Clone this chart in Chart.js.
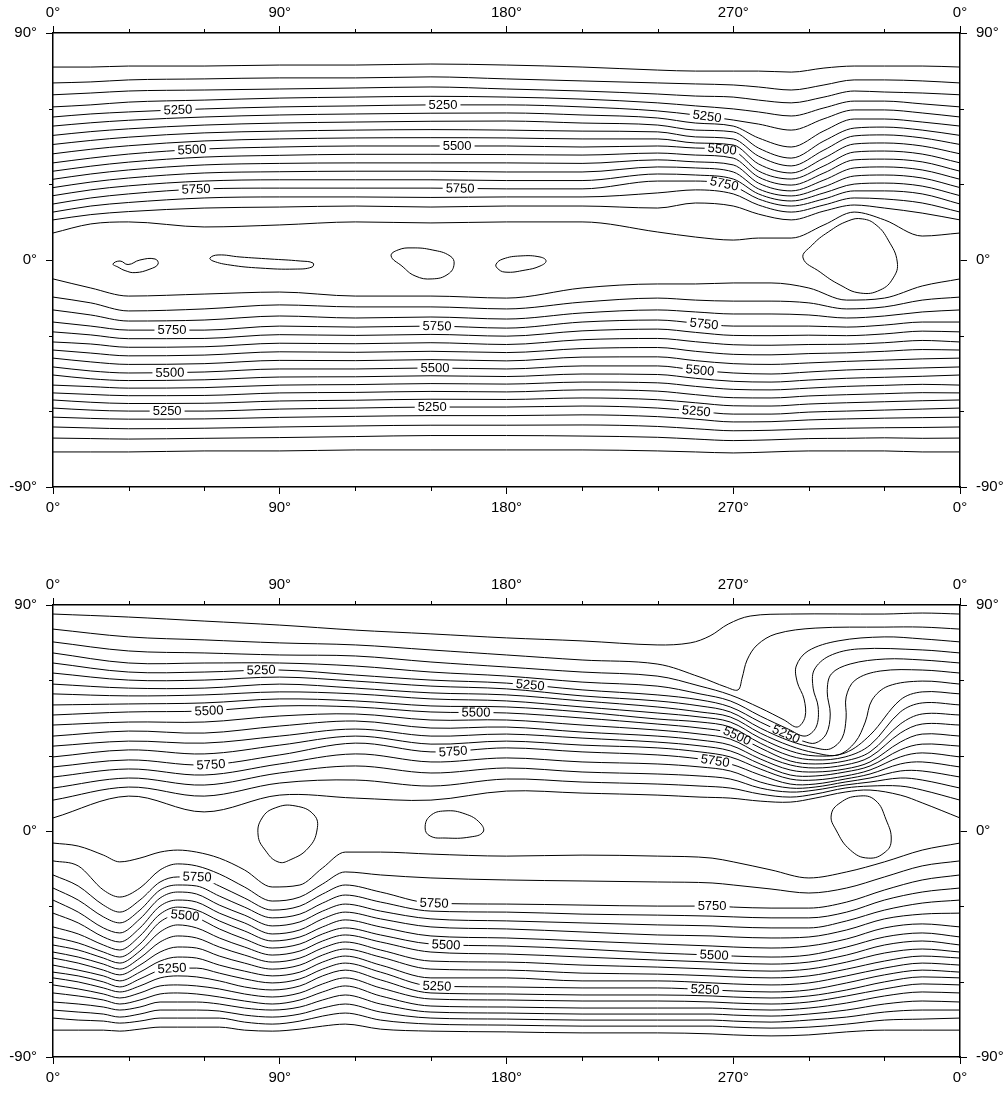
<!DOCTYPE html>
<html><head><meta charset="utf-8">
<script src="https://cdn.jsdelivr.net/npm/chart.js@4/dist/chart.umd.min.js"></script>
<style>
html,body{margin:0;padding:0;background:#fff;}
#wrap{position:relative;width:1008px;height:1093px;background:#fff;}
canvas{position:absolute;left:0;}
</style></head><body>
<div id="wrap">
<canvas id="c1" width="1008" height="546" style="top:0"></canvas>
<canvas id="c2" width="1008" height="547" style="top:546px"></canvas>
</div>
<script>
// ================= DATA =================
const lonTicks = [0, 90, 180, 270, 360];
const latTicks = [-90, 0, 90];
const lonMinor = [30, 60, 120, 150, 210, 240, 300, 330];
const latMinor = [-60, -30, 30, 60];

// ---- Top map ----
const topNorthLons = [0,15,30,60,90,120,150,180,210,240,255,270,280,293,306,318,330,345,360];
const topNorthLevels = [5050,5100,5150,5200,5250,5300,5350,5400,5450,5500,5550,5600,5650,5700,5750,5800,5850,5900];
const topNorthLat = [
 [76.5,70.2,65.5,60.7,56.7,53.1,49.4,45.8,42.1,38.5,35.2,32.0,28.7,25.5,22.2,19.0,15.9,10.7],
 [76.5,70.6,66.2,61.5,57.9,54.4,50.9,47.4,43.9,40.4,37.2,34.1,30.9,27.8,24.6,21.4,18.0,14.3],
 [76.9,71.4,67.0,62.6,58.7,55.4,52.0,48.7,45.3,42.0,38.8,35.7,32.5,29.4,26.2,22.8,19.2,15.1],
 [76.9,71.8,67.4,63.4,59.9,56.7,53.5,50.4,47.2,44.0,40.8,37.7,34.5,31.3,28.2,24.6,20.6,13.1],
 [77.3,72.2,67.8,64.2,60.7,57.5,54.3,51.1,48.0,44.8,41.5,38.3,35.0,31.8,28.5,25.0,21.0,13.9],
 [77.3,72.2,68.2,64.6,61.1,57.9,54.7,51.5,48.4,45.2,41.9,38.5,35.2,31.8,28.5,25.0,21.4,15.1],
 [77.7,72.6,68.6,64.9,61.5,58.2,55.0,51.7,48.5,45.2,41.9,38.5,35.2,31.8,28.5,24.8,21.0,14.7],
 [77.3,71.8,67.8,64.6,61.5,58.3,55.1,51.5,48.4,45.2,41.8,38.5,34.9,31.5,28.2,25.0,21.4,15.1],
 [76.5,71.0,67.0,63.8,60.7,57.5,54.3,51.1,48.0,44.8,41.6,38.3,34.9,31.5,28.2,25.0,21.4,15.1],
 [75.3,70.2,65.8,62.3,59.1,56.3,53.5,50.8,48.0,45.2,42.4,39.7,36.9,34.1,31.3,26.6,20.6,11.1],
 [74.9,69.8,65.0,61.1,57.5,54.3,51.5,48.8,46.4,44.4,41.6,38.9,36.5,33.7,31.3,27.8,22.6,9.1],
 [74.9,69.4,64.6,59.9,55.5,53.1,50.8,48.0,45.6,43.2,40.4,37.7,34.9,32.1,29.3,26.2,21.4,7.9],
 [74.9,68.6,63.4,58.7,53.9,48.4,44.4,41.2,38.1,35.3,32.9,30.5,28.2,26.2,24.2,21.8,18.2,8.7],
 [74.5,67.4,62.3,57.1,51.5,44.8,40.4,37.3,34.5,32.1,29.7,27.4,25.4,23.4,21.4,19.0,15.9,8.7],
 [76.1,69.4,64.6,60.3,56.0,51.2,47.2,43.6,40.4,37.3,34.5,31.7,29.0,26.6,24.2,21.8,19.4,13.9],
 [76.9,71.4,67.0,63.0,59.5,55.9,52.3,49.2,46.0,42.8,39.7,36.5,33.3,30.1,27.4,24.6,21.8,19.0],
 [76.9,71.4,66.6,63.0,59.5,55.9,52.7,49.6,46.4,43.2,40.0,36.9,33.7,30.5,27.4,24.2,20.6,15.9],
 [76.9,71.0,66.2,61.9,58.3,54.7,51.5,48.4,45.2,42.0,38.9,35.7,32.5,29.3,26.2,22.6,18.6,9.5],
 [76.5,70.2,65.5,60.7,56.7,53.1,49.4,45.8,42.1,38.5,35.2,32.0,28.7,25.5,22.2,19.0,15.9,10.7]
];
const topSouthLons = [0,15,30,60,90,120,150,180,210,240,255,270,285,300,315,330,345,360];
const topSouthLevels = [5900,5850,5800,5750,5700,5650,5600,5550,5500,5450,5400,5350,5300,5250,5200,5150,5100,5050];
const topSouthLat = [
 [-7.5,-14.7,-19.8,-24.6,-28.5,-32.5,-35.7,-38.9,-42.4,-45.6,-49.6,-52.7,-55.5,-58.7,-62.3,-66.2,-70.6,-76.1],
 [-11.1,-17.0,-21.8,-26.2,-29.7,-33.3,-36.9,-40.4,-44.0,-47.1,-50.2,-53.3,-56.4,-59.5,-62.8,-66.6,-70.8,-76.1],
 [-14.3,-20.2,-24.2,-27.8,-31.2,-34.6,-38.0,-41.4,-44.8,-47.8,-50.8,-53.8,-56.9,-59.9,-63.1,-66.9,-71.0,-76.1],
 [-13.5,-19.4,-23.8,-27.8,-31.1,-34.4,-37.7,-41.1,-44.4,-47.5,-50.6,-53.7,-56.8,-59.9,-63.0,-66.7,-70.7,-75.7],
 [-12.7,-17.8,-22.2,-26.2,-29.6,-33.0,-36.4,-39.8,-43.2,-46.4,-49.6,-52.7,-55.9,-59.1,-62.4,-66.2,-70.4,-75.7],
 [-14.3,-18.6,-23.0,-26.6,-29.9,-33.2,-36.6,-39.9,-43.2,-46.3,-49.4,-52.5,-55.6,-58.7,-62.0,-65.8,-70.0,-75.3],
 [-14.3,-18.6,-22.6,-26.2,-29.5,-32.8,-36.2,-39.5,-42.8,-45.9,-49.0,-52.1,-55.2,-58.3,-61.7,-65.5,-69.6,-75.3],
 [-15.1,-19.4,-23.4,-27.0,-30.2,-33.5,-36.7,-40.0,-43.2,-46.2,-49.2,-52.3,-55.3,-58.3,-61.7,-65.5,-69.6,-75.3],
 [-11.1,-16.7,-21.0,-24.6,-28.1,-31.6,-35.1,-38.5,-42.0,-45.2,-48.4,-51.5,-54.7,-57.9,-61.4,-65.4,-69.8,-75.3],
 [-9.5,-15.1,-19.8,-23.8,-27.4,-31.1,-34.7,-38.4,-42.0,-45.4,-48.7,-52.0,-55.4,-58.7,-62.1,-66.0,-70.3,-75.7],
 [-9.5,-15.9,-20.6,-25.0,-28.7,-32.4,-36.2,-39.9,-43.6,-46.9,-50.1,-53.4,-56.6,-59.9,-63.1,-66.9,-71.0,-76.1],
 [-9.1,-16.3,-21.4,-26.2,-29.9,-33.6,-37.4,-41.1,-44.8,-48.1,-51.3,-54.6,-57.8,-61.1,-64.2,-67.7,-71.6,-76.5],
 [-9.1,-16.3,-21.4,-26.2,-30.0,-33.8,-37.6,-41.4,-45.2,-48.4,-51.5,-54.7,-57.9,-61.1,-64.1,-67.5,-71.3,-76.1],
 [-11.1,-17.0,-21.8,-26.2,-29.8,-33.5,-37.1,-40.8,-44.4,-47.6,-50.8,-53.9,-57.1,-60.3,-63.4,-67.0,-70.8,-75.7],
 [-15.9,-19.4,-23.0,-26.6,-30.0,-33.4,-36.8,-40.2,-43.6,-46.9,-50.1,-53.4,-56.6,-59.9,-63.0,-66.7,-70.7,-75.7],
 [-15.1,-18.6,-22.2,-25.8,-29.3,-32.8,-36.2,-39.7,-43.2,-46.5,-49.7,-53.0,-56.2,-59.5,-62.7,-66.5,-70.5,-75.7],
 [-10.3,-15.9,-20.6,-24.6,-28.2,-31.9,-35.5,-39.2,-42.8,-46.1,-49.3,-52.6,-55.8,-59.1,-62.5,-66.4,-70.7,-76.1],
 [-7.5,-14.7,-19.8,-24.6,-28.5,-32.5,-35.7,-38.9,-42.4,-45.6,-49.6,-52.7,-55.5,-58.7,-62.3,-66.2,-70.6,-76.1]
];
const topClosedLevel = 5950;
const topClosed = [
 [[23.8,-1.6],[26.6,-0.4],[29.8,-1.8],[34.5,0.0],[40.5,0.4],[41.7,-1.6],[38.5,-3.6],[32.6,-5.0],[28.6,-4.2],[25.8,-2.8]],
 [[62.3,0.8],[65.5,2.0],[74.2,1.2],[86.1,0.4],[98.1,-0.4],[103.2,-1.2],[102.8,-2.8],[96.1,-3.6],[82.2,-3.2],[70.3,-2.0],[63.5,-0.4]],
 [[134.2,1.6],[137.0,4.0],[142.5,4.8],[150.5,4.0],[157.6,1.6],[159.2,-1.6],[156.8,-5.6],[150.5,-7.5],[143.7,-6.3],[138.5,-2.4]],
 [[175.9,-1.6],[178.6,0.4],[185.4,1.6],[193.3,1.2],[195.7,-0.4],[193.3,-2.4],[187.4,-4.0],[179.4,-4.8],[176.3,-3.2]],
 [[297.7,0.8],[301.3,5.9],[307.7,11.1],[315.6,15.5],[321.2,16.3],[326.7,13.9],[331.5,7.9],[335.1,-0.8],[333.5,-7.1],[328.3,-11.9],[320.4,-13.1],[312.4,-9.9],[304.5,-4.8]]
];
const topLabelLines = ['N5250','N5250','N5250','N5500','N5500','N5500','N5750','N5750','N5750','S5750','S5750','S5750','S5500','S5500','S5500','S5250','S5250','S5250'];
const topLabelLons  = [49.6,154.8,259.6,55.2,160.4,265.6,56.8,161.6,266.4,47.2,152.4,258.4,46.4,151.6,256.8,45.3,150.5,255.3];

// ---- Bottom map ----
const botNorthLevels = [5050,5100,5150,5200,5250,5300,5350,5400,5450,5500,5550,5600,5650,5700,5750,5800,5850,5900,5950];
const botNorthWestLons = [0,30,60,90,120,150,180,210];
const botNorthWestLat = [
 [86.4,80.4,75.3,70.9,66.9,62.9,58.5,54.6,50.2,46.2,42.2,37.8,33.8,29.5,25.5,21.5,17.1,12.3,5.2],
 [85.2,77.3,71.7,66.9,63.3,60.1,56.9,53.8,50.6,47.4,43.4,39.8,35.8,32.3,28.3,24.7,21.1,17.5,13.9],
 [83.6,76.1,70.9,66.9,63.3,60.1,56.9,54.2,51.0,47.8,43.4,39.0,35.0,30.7,26.3,22.3,18.3,13.9,7.6],
 [82.0,74.9,70.1,66.9,64.1,61.3,58.5,55.4,52.6,49.8,45.8,41.8,37.8,34.2,30.3,26.7,23.1,19.1,14.3],
 [80.0,74.1,69.7,65.7,62.1,59.7,56.9,54.6,51.8,49.4,46.6,43.8,40.6,37.8,35.0,30.7,25.9,20.3,13.1],
 [78.5,72.1,67.3,63.3,60.1,57.7,55.0,52.6,49.8,47.4,44.2,41.0,37.8,34.6,31.5,27.5,23.1,17.9,12.3],
 [76.9,70.1,65.3,61.7,58.9,56.6,54.2,51.8,49.4,47.0,44.2,41.4,38.6,35.8,33.1,29.1,25.1,20.7,15.9],
 [75.7,68.1,63.3,59.3,56.2,53.8,51.8,49.4,47.4,45.0,42.2,39.4,37.0,34.2,31.5,27.5,23.5,19.5,15.1]
];
// trough / hook region, [lon, lat] pairs for each level (lon 240 -> 345)
const botNorthHook = [
 [[239.8,74.1],[252.9,74.9],[260.8,77.7],[268.0,82.4],[276.7,85.6],[292.6,86.4],[329.9,86.4],[345.0,86.8]],
 [[239.8,66.5],[256.8,61.3],[267.2,57.3],[271.9,56.2],[273.5,60.9],[275.5,68.1],[279.5,74.1],[287.0,78.5],[302.5,80.8],[329.9,81.2],[345.0,81.2]],
 [[239.8,61.7],[256.8,57.7],[268.8,54.2],[280.7,49.0],[290.2,44.2],[295.4,41.4],[298.5,45.4],[298.1,52.6],[295.4,59.3],[295.0,65.7],[299.7,71.7],[311.6,75.7],[329.9,77.3],[345.0,76.5]],
 [[239.8,57.7],[256.8,54.6],[268.8,51.8],[280.7,45.8],[291.8,40.6],[298.5,37.8],[302.9,41.4],[303.7,49.4],[301.7,56.9],[302.1,64.1],[308.1,69.7],[319.6,72.5],[345.0,72.1]],
 [[239.8,54.2],[256.8,52.2],[268.8,49.4],[280.7,43.4],[291.0,38.6],[297.7,35.8],[302.5,35.0],[306.9,38.6],[308.5,46.6],[307.3,55.4],[308.9,62.5],[316.4,66.5],[330.3,68.5],[345.0,68.1]],
 [[239.8,51.8],[256.8,49.8],[268.8,47.4],[280.7,41.0],[292.6,35.8],[302.5,33.1],[308.5,32.7],[313.2,37.0],[314.8,45.0],[314.8,53.4],[318.4,60.1],[328.3,63.7],[345.0,64.1]],
 [[239.8,49.4],[256.8,47.4],[268.8,45.4],[280.7,39.0],[292.6,33.9],[302.5,31.1],[311.6,30.3],[318.4,35.4],[322.4,43.4],[325.1,52.2],[331.5,57.7],[345.0,59.7]],
 [[239.8,47.0],[256.8,45.4],[268.8,43.4],[280.7,37.0],[292.6,31.9],[302.5,29.9],[314.4,31.1],[324.3,38.2],[336.3,52.2],[345.0,55.4]],
 [[239.8,44.6],[256.8,43.4],[268.8,41.4],[280.7,35.0],[292.6,29.9],[302.5,28.3],[314.4,29.5],[324.3,34.2],[336.3,47.4],[345.0,51.0]],
 [[239.8,42.6],[256.8,41.0],[268.8,39.0],[280.7,33.1],[292.6,27.9],[302.5,26.7],[314.4,27.9],[324.3,31.5],[336.3,42.6],[345.0,46.6]],
 [[239.8,40.2],[256.8,38.6],[268.8,36.6],[280.7,30.7],[292.6,26.3],[302.5,25.1],[314.4,26.3],[324.3,29.5],[336.3,39.0],[345.0,42.6]],
 [[239.8,37.8],[256.8,36.2],[268.8,34.2],[280.7,28.7],[292.6,24.3],[302.5,23.5],[314.4,24.7],[324.3,27.5],[336.3,35.4],[345.0,38.6]],
 [[239.8,35.4],[256.8,33.9],[268.8,31.9],[280.7,26.7],[292.6,22.3],[302.5,21.9],[314.4,23.5],[324.3,25.9],[336.3,32.3],[345.0,34.6]],
 [[239.8,33.1],[256.8,31.5],[268.8,29.5],[280.7,24.7],[292.6,20.7],[302.5,20.3],[314.4,21.9],[324.3,24.3],[336.3,29.5],[345.0,31.1]],
 [[239.8,30.3],[256.8,28.7],[268.8,26.7],[280.7,22.3],[292.6,18.7],[302.5,18.7],[314.4,20.7],[324.3,22.7],[336.3,26.7],[345.0,27.5]],
 [[239.8,26.7],[256.8,25.5],[268.8,23.9],[280.7,19.5],[292.6,17.1],[302.5,17.5],[314.4,19.5],[324.3,21.1],[336.3,23.9],[345.0,23.9]],
 [[239.8,22.7],[256.8,21.9],[268.8,20.7],[280.7,17.1],[292.6,15.5],[302.5,16.3],[314.4,18.3],[324.3,19.5],[336.3,21.1],[345.0,20.3]],
 [[239.8,18.7],[256.8,17.9],[268.8,17.1],[280.7,14.7],[292.6,13.5],[302.5,14.7],[314.4,17.1],[324.3,17.9],[336.3,17.9],[345.0,16.3]],
 [[239.8,14.3],[256.8,13.5],[268.8,13.1],[280.7,11.9],[292.6,11.5],[302.5,13.1],[314.4,15.5],[324.3,16.3],[336.3,14.3],[345.0,11.2]]
];
const botNorthEndLon = 360;
const botNorthEndLat = [86.4,80.4,75.3,70.9,66.9,62.9,58.5,54.6,50.2,46.2,42.2,37.8,33.8,29.5,25.5,21.5,17.1,12.3,5.2];

const botSouthLons = [0,10,20,26.5,34.5,42.5,49.5,57,66,76,87,98,107,116,130,150,180,210,240,261.6,270,285,300,315,330,345,360];
const botSouthLevels = [5850,5800,5750,5700,5650,5600,5550,5500,5450,5400,5350,5300,5250,5200,5150,5100,5050,5000,4950,4900];
const botSouthLat = [
 [-4.8,-11.9,-17.5,-22.7,-27.5,-32.7,-38.2,-42.2,-45.4,-48.2,-50.6,-53.4,-56.2,-58.5,-61.3,-64.5,-68.1,-71.3,-74.5,-79.3],
 [-6.0,-13.9,-21.9,-27.5,-32.3,-36.6,-41.0,-44.6,-47.4,-50.2,-52.6,-55.4,-57.7,-60.1,-62.9,-65.7,-68.9,-72.1,-75.3,-79.3],
 [-9.6,-23.5,-29.5,-34.2,-38.6,-42.2,-45.4,-48.2,-50.6,-53.0,-55.4,-57.7,-60.1,-62.5,-64.9,-67.3,-70.1,-72.9,-75.7,-79.3],
 [-12.3,-26.3,-32.3,-36.6,-40.6,-44.2,-47.4,-50.2,-52.6,-55.0,-57.3,-59.7,-62.1,-64.1,-66.5,-68.9,-71.3,-74.1,-76.5,-79.7],
 [-10.8,-22.7,-27.5,-31.5,-35.0,-38.6,-41.8,-45.0,-47.8,-50.6,-53.4,-56.2,-58.9,-61.7,-64.5,-67.3,-70.1,-72.9,-75.7,-78.9],
 [-8.4,-15.5,-20.3,-23.5,-26.7,-29.9,-33.1,-36.2,-40.2,-44.2,-48.2,-51.8,-55.4,-58.5,-61.7,-64.9,-68.1,-71.3,-74.5,-78.1],
 [-7.6,-13.1,-18.3,-21.5,-24.3,-27.5,-30.3,-33.5,-37.4,-41.8,-46.2,-50.2,-54.6,-57.7,-61.3,-64.5,-68.1,-71.3,-74.5,-78.1],
 [-8.4,-13.9,-18.3,-21.9,-25.1,-28.3,-31.5,-34.6,-38.6,-42.6,-46.6,-50.6,-54.6,-58.1,-61.7,-64.9,-68.1,-71.3,-74.5,-78.1],
 [-10.8,-17.1,-21.9,-25.9,-29.5,-32.7,-35.8,-39.0,-42.6,-46.2,-49.8,-53.4,-56.6,-59.7,-62.9,-66.1,-68.9,-71.7,-74.5,-78.1],
 [-15.5,-22.3,-26.7,-30.3,-33.5,-36.6,-39.8,-43.0,-46.2,-49.4,-52.6,-55.8,-58.9,-62.1,-64.9,-67.7,-70.5,-73.3,-76.1,-79.3],
 [-22.3,-27.9,-31.5,-34.6,-37.8,-41.0,-43.8,-46.6,-49.4,-52.2,-55.0,-57.7,-60.5,-63.3,-66.1,-68.9,-71.3,-74.1,-76.9,-79.7],
 [-21.5,-26.3,-29.9,-33.1,-36.2,-39.4,-42.2,-45.0,-47.8,-50.6,-53.4,-56.2,-58.9,-61.7,-64.5,-67.3,-70.1,-72.9,-75.7,-78.9],
 [-14.7,-21.1,-25.1,-28.7,-31.9,-35.0,-38.2,-41.0,-43.8,-46.6,-49.4,-52.2,-55.0,-57.7,-60.9,-64.1,-67.3,-70.5,-73.7,-77.7],
 [-8.4,-16.3,-21.5,-25.5,-29.1,-32.3,-35.4,-38.6,-41.4,-44.2,-47.0,-49.8,-52.6,-55.4,-58.5,-61.7,-65.3,-68.9,-72.5,-76.9],
 [-8.4,-17.5,-24.3,-28.3,-31.9,-35.0,-38.2,-41.4,-44.2,-47.4,-50.2,-53.4,-56.2,-59.3,-62.5,-65.7,-68.9,-72.1,-75.3,-78.9],
 [-9.2,-18.7,-28.7,-31.9,-35.0,-38.2,-41.8,-45.0,-48.2,-51.8,-55.0,-58.5,-61.7,-64.5,-66.9,-69.7,-72.1,-74.5,-76.9,-79.7],
 [-10.0,-19.5,-29.1,-32.3,-35.8,-39.0,-42.6,-45.8,-49.0,-52.2,-55.4,-58.5,-62.1,-64.9,-67.3,-70.1,-72.5,-74.9,-77.3,-80.0],
 [-9.6,-19.9,-29.5,-33.1,-36.6,-40.2,-43.8,-47.0,-50.2,-53.4,-56.6,-59.7,-62.5,-65.3,-67.7,-70.5,-72.9,-75.3,-77.7,-80.4],
 [-10.0,-20.3,-29.9,-33.5,-37.4,-41.4,-45.0,-48.6,-51.4,-54.2,-57.0,-59.7,-62.5,-65.3,-67.7,-70.5,-72.9,-75.3,-77.7,-80.4],
 [-10.8,-20.7,-29.9,-33.9,-37.8,-41.8,-45.8,-49.4,-52.2,-55.0,-57.7,-60.5,-63.3,-65.7,-68.1,-70.5,-72.9,-75.3,-77.7,-80.8],
 [-12.3,-21.5,-30.3,-34.2,-38.2,-42.2,-46.2,-49.8,-52.6,-55.4,-58.1,-60.9,-63.7,-66.1,-68.5,-70.9,-73.3,-75.7,-78.1,-81.2],
 [-15.5,-23.1,-30.7,-34.6,-38.6,-42.6,-46.6,-50.2,-53.0,-55.8,-58.5,-61.3,-64.1,-66.5,-68.9,-71.3,-73.7,-76.1,-78.5,-81.6],
 [-18.7,-24.7,-30.7,-34.6,-38.6,-42.2,-45.8,-49.4,-52.2,-55.0,-57.7,-60.5,-63.3,-65.7,-68.1,-70.5,-72.9,-75.3,-78.1,-81.2],
 [-16.3,-22.7,-28.3,-32.3,-35.8,-39.4,-43.0,-46.2,-49.4,-52.2,-55.0,-57.7,-60.5,-63.3,-65.7,-68.5,-71.3,-74.1,-76.9,-80.0],
 [-12.3,-18.3,-23.5,-27.5,-31.5,-35.0,-38.6,-42.2,-45.4,-48.6,-51.8,-54.6,-57.3,-60.1,-62.9,-65.7,-68.9,-72.1,-75.3,-79.3],
 [-7.6,-13.9,-19.5,-24.3,-28.7,-33.1,-37.0,-40.6,-43.8,-47.0,-49.8,-52.6,-55.4,-58.1,-60.9,-64.1,-67.7,-71.3,-74.9,-79.3],
 [-4.8,-11.9,-17.5,-22.7,-27.5,-32.7,-38.2,-42.2,-45.4,-48.2,-50.6,-53.4,-56.2,-58.5,-61.3,-64.5,-68.1,-71.3,-74.5,-79.3]
];
const botClosedLevel = 6000;
const botClosed = [
 [[81.4,-1.6],[83.0,5.2],[88.2,9.2],[96.1,10.0],[103.6,6.4],[104.8,0.4],[101.3,-6.8],[94.1,-11.5],[89.3,-12.3],[84.2,-7.6]],
 [[147.7,1.2],[149.7,6.0],[155.6,8.0],[163.6,6.8],[169.5,3.2],[170.7,-0.4],[165.5,-2.4],[155.6,-2.8],[149.7,-2.0]],
 [[308.9,6.4],[312.4,11.2],[319.6,13.9],[326.3,12.3],[330.7,4.4],[332.7,-3.6],[330.3,-8.4],[323.6,-10.8],[316.5,-7.6],[310.8,0.4]]
];
const botLabelLines = ['N5250','N5250','N5250','N5500','N5500','N5500','N5750','N5750','N5750','S5750','S5750','S5750','S5500','S5500','S5500','S5250','S5250','S5250'];
const botLabelLons  = [82.6,189.4,291.0,61.9,167.9,271.5,62.7,158.8,262.8,57.2,151.3,261.6,52.4,156.0,262.4,47.2,152.4,258.8];

// ================= RENDER =================
const FONT = "'Liberation Sans', Arial, Helvetica, sans-serif";
const LABEL_FONT = "13px " + FONT;
const lineStyle = { borderColor: '#000', borderWidth: 1, pointRadius: 0, fill: false };

function buildLines(lons, table, levels, hemi) {
  return levels.map((lev, j) => Object.assign({
    key: hemi + lev,
    data: lons.map((lon, i) => ({ x: lon, y: table[i][j] })),
    cubicInterpolationMode: 'monotone'
  }, lineStyle));
}
function buildHookLines(westLons, westTable, hook, endLon, endLat, levels, hemi) {
  return levels.map((lev, j) => {
    const pts = westLons.map((lon, i) => ({ x: lon, y: westTable[i][j] }))
      .concat(hook[j].map(p => ({ x: p[0], y: p[1] })))
      .concat([{ x: endLon, y: endLat[j] }]);
    return Object.assign({ key: hemi + lev, data: pts, tension: 0.35 }, lineStyle);
  });
}
function buildClosed(shapes, level) {
  return shapes.map((pts, k) => Object.assign({
    key: 'C' + level + '_' + k, closed: true,
    data: pts.map(p => ({ x: p[0], y: p[1] })),
    tension: 0.45
  }, lineStyle));
}
function bez(a, b, c, d, t) { const u = 1 - t; return u*u*u*a + 3*u*u*t*b + 3*u*t*t*c + t*t*t*d; }
function dbez(a, b, c, d, t) { const u = 1 - t; return 3*u*u*(b - a) + 6*u*t*(c - b) + 3*t*t*(d - c); }
function pointAtX(pts, px) {
  for (let i = 0; i < pts.length - 1; i++) {
    const p = pts[i], q = pts[i + 1];
    if (p.x === q.x || (p.x - px) * (q.x - px) > 0) continue;
    const X = [p.x, p.cp2x ?? p.x, q.cp1x ?? q.x, q.x];
    const Y = [p.y, p.cp2y ?? p.y, q.cp1y ?? q.y, q.y];
    const inc = q.x > p.x;
    let lo = 0, hi = 1;
    for (let k = 0; k < 40; k++) {
      const m = (lo + hi) / 2;
      const xm = bez(X[0], X[1], X[2], X[3], m);
      if ((xm < px) === inc) lo = m; else hi = m;
    }
    const t = (lo + hi) / 2;
    return { x: bez(...X, t), y: bez(...Y, t), dx: dbez(...X, t), dy: dbez(...Y, t) };
  }
  return null;
}

const mapPlugin = {
  id: 'mapDeco',
  afterDatasetUpdate(chart, args) {
    const ds = chart.data.datasets[args.index];
    if (ds.closed) { args.meta.dataset._loop = true; args.meta.dataset._fullLoop = true; }
  },
  beforeDatasetsDraw(chart, args, opts) {
    const ctx = chart.ctx;
    ctx.save(); ctx.font = LABEL_FONT;
    const out = [];
    (opts.lines || []).forEach((key, n) => {
      const di = chart.data.datasets.findIndex(d => d.key === key);
      if (di < 0) return;
      const meta = chart.getDatasetMeta(di);
      meta.dataset.updateControlPoints(chart.chartArea, 'x');
      const px = chart.scales.x.getPixelForValue(opts.lons[n]);
      const r = pointAtX(meta.data, px);
      if (!r) return;
      let a = Math.atan2(r.dy, r.dx);
      if (a > Math.PI / 2) a -= Math.PI;
      if (a < -Math.PI / 2) a += Math.PI;
      const text = key.slice(1);
      out.push({ di, x: r.x, y: r.y, a, w: ctx.measureText(text).width, text });
    });
    ctx.restore();
    chart.$cl = out;
  },
  beforeDatasetDraw(chart, args) {
    const labs = (chart.$cl || []).filter(l => l.di === args.index);
    if (!labs.length) return;
    const ctx = chart.ctx;
    ctx.save();
    ctx.beginPath();
    ctx.rect(0, 0, chart.width, chart.height);
    labs.forEach(l => {
      const hw = l.w / 2 + 3, hh = 6, c = Math.cos(l.a), s = Math.sin(l.a);
      const pts = [[-hw, -hh], [hw, -hh], [hw, hh], [-hw, hh]].map(([u, v]) => [l.x + u * c - v * s, l.y + u * s + v * c]);
      ctx.moveTo(pts[0][0], pts[0][1]);
      for (let i = 1; i < 4; i++) ctx.lineTo(pts[i][0], pts[i][1]);
      ctx.closePath();
    });
    ctx.clip('evenodd');
  },
  afterDatasetDraw(chart, args) {
    const labs = (chart.$cl || []).filter(l => l.di === args.index);
    if (labs.length) chart.ctx.restore();
  },
  afterDatasetsDraw(chart) {
    const ctx = chart.ctx;
    ctx.save();
    ctx.font = LABEL_FONT; ctx.fillStyle = '#000'; ctx.textAlign = 'center'; ctx.textBaseline = 'middle';
    (chart.$cl || []).forEach(l => {
      ctx.save(); ctx.translate(l.x, l.y); ctx.rotate(l.a); ctx.fillText(l.text, 0, 0.5); ctx.restore();
    });
    ctx.restore();
  },
  afterDraw(chart) {
    const ctx = chart.ctx, a = chart.chartArea;
    ctx.save(); ctx.strokeStyle = '#000'; ctx.lineWidth = 1;
    ctx.beginPath();
    lonMinor.forEach(v => {
      const x = Math.round(chart.scales.x.getPixelForValue(v)) + 0.5;
      ctx.moveTo(x, a.top); ctx.lineTo(x, a.top - 4);
      ctx.moveTo(x, a.bottom); ctx.lineTo(x, a.bottom + 4);
    });
    latMinor.forEach(v => {
      const y = Math.round(chart.scales.y.getPixelForValue(v)) + 0.5;
      ctx.moveTo(a.left, y); ctx.lineTo(a.left - 4, y);
      ctx.moveTo(a.right, y); ctx.lineTo(a.right + 4, y);
    });
    ctx.stroke(); ctx.restore();
  }
};

function xAxis(pos, h, pad) {
  return {
    type: 'linear', position: pos, min: 0, max: 360,
    afterBuildTicks: s => { s.ticks = lonTicks.map(v => ({ value: v })); },
    afterFit: s => { s.height = h; },
    ticks: { callback: v => (v % 360) + '°', color: '#000', font: { family: FONT, size: 15 }, padding: pad, maxRotation: 0, autoSkip: false },
    grid: { drawOnChartArea: false, drawTicks: true, tickLength: 7, tickColor: '#000', tickWidth: 1 },
    border: { display: true, color: '#000', width: 1.5 }
  };
}
function yAxis(pos, w) {
  return {
    type: 'linear', position: pos, min: -90, max: 90,
    afterBuildTicks: s => { s.ticks = latTicks.map(v => ({ value: v })); },
    afterFit: s => { s.width = w; },
    ticks: { callback: v => v + '°', color: '#000', font: { family: FONT, size: 15 }, padding: 9, autoSkip: false },
    grid: { drawOnChartArea: false, drawTicks: true, tickLength: 7, tickColor: '#000', tickWidth: 1 },
    border: { display: true, color: '#000', width: 1.5 }
  };
}
function makeMap(id, datasets, labelLines, labelLons, topH, botH) {
  return new Chart(document.getElementById(id), {
    type: 'line',
    data: { datasets },
    options: {
      responsive: false, animation: false, devicePixelRatio: 1, events: [],
      layout: { padding: 0 },
      plugins: { legend: { display: false }, tooltip: { enabled: false },
                 mapDeco: { lines: labelLines, lons: labelLons } },
      scales: {
        x: xAxis('bottom', botH, 5),
        x2: xAxis('top', topH, 4),
        y: yAxis('left', 53),
        y2: yAxis('right', 48)
      }
    },
    plugins: [mapPlugin]
  });
}

makeMap('c1',
  [].concat(buildLines(topNorthLons, topNorthLat, topNorthLevels, 'N'),
            buildLines(topSouthLons, topSouthLat, topSouthLevels, 'S'),
            buildClosed(topClosed, topClosedLevel)),
  topLabelLines, topLabelLons, 33, 59);
makeMap('c2',
  [].concat(buildHookLines(botNorthWestLons, botNorthWestLat, botNorthHook, botNorthEndLon, botNorthEndLat, botNorthLevels, 'N'),
            buildLines(botSouthLons, botSouthLat, botSouthLevels, 'S'),
            buildClosed(botClosed, botClosedLevel)),
  botLabelLines, botLabelLons, 59, 36);
</script>
</body></html>
